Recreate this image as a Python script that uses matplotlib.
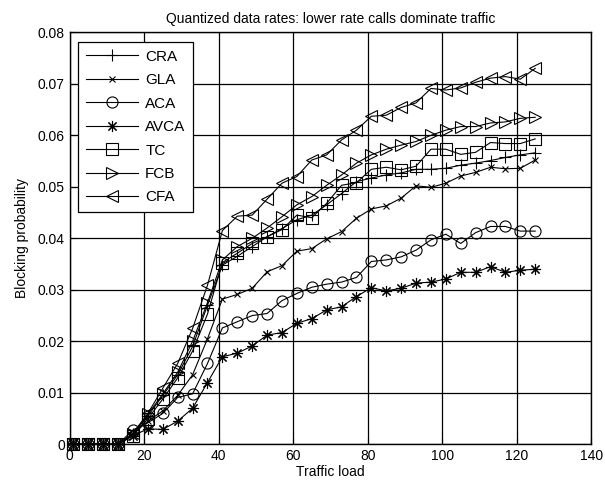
import matplotlib
matplotlib.use("Agg")
import matplotlib.pyplot as plt
from matplotlib.ticker import FuncFormatter

plt.rcParams['font.family'] = ['Liberation Sans', 'DejaVu Sans']
plt.rcParams['font.size'] = 10

# traffic load points (every 4 units from 1 to 125)
load = list(range(1, 126, 4))

cra = [0, 0, 0, 0, 0.002, 0.0055, 0.0095, 0.0135, 0.019, 0.027,
       0.0348, 0.0365, 0.0384, 0.0403, 0.0419, 0.0436, 0.0445, 0.0465, 0.0487, 0.051,
       0.0517, 0.0523, 0.0527, 0.0534, 0.0534, 0.0536, 0.0542, 0.0546, 0.0551, 0.0557,
       0.0562, 0.0566]
gla = [0, 0, 0, 0, 0.002, 0.0045, 0.0065, 0.0095, 0.0135, 0.0205,
       0.0282, 0.0291, 0.0303, 0.0335, 0.0347, 0.0375, 0.038, 0.0399, 0.0413, 0.0439,
       0.0457, 0.0463, 0.0478, 0.0502, 0.0499, 0.0507, 0.0521, 0.0528, 0.0538, 0.0535,
       0.0536, 0.0552]
aca = [0, 0, 0, 0, 0.0028, 0.0042, 0.006, 0.0091, 0.0098, 0.0157,
       0.0226, 0.0238, 0.025, 0.0254, 0.0279, 0.0293, 0.0305, 0.0311, 0.0315, 0.0324,
       0.0355, 0.0358, 0.0364, 0.0377, 0.0397, 0.0408, 0.039, 0.0411, 0.0423, 0.0423,
       0.0414, 0.0414]
avca = [0, 0, 0, 0, 0.0017, 0.003, 0.0029, 0.0045, 0.007, 0.012,
        0.017, 0.0177, 0.0191, 0.0212, 0.0217, 0.0235, 0.0244, 0.0261, 0.0267, 0.0287,
        0.0304, 0.0298, 0.0303, 0.0313, 0.0315, 0.0321, 0.0334, 0.0334, 0.0345, 0.0334,
        0.0338, 0.034]
tc = [0, 0, 0, 0, 0.0017, 0.005, 0.0088, 0.0129, 0.0181, 0.0253,
      0.0353, 0.0371, 0.039, 0.0403, 0.0417, 0.0445, 0.044, 0.0468, 0.0503, 0.0508,
      0.0534, 0.0538, 0.0533, 0.054, 0.0573, 0.0573, 0.0563, 0.0567, 0.0586, 0.0584,
      0.0584, 0.0593]
fcb = [0, 0, 0, 0, 0.002, 0.0058, 0.0098, 0.014, 0.02, 0.0275,
       0.0358, 0.0384, 0.04, 0.042, 0.0442, 0.0465, 0.0481, 0.0503, 0.0523, 0.0546,
       0.0562, 0.0573, 0.0581, 0.0588, 0.06, 0.061, 0.0617, 0.0617, 0.0624, 0.0626,
       0.0633, 0.0635]
cfa = [0, 0, 0, 0, 0.0022, 0.006, 0.0109, 0.0157, 0.0225, 0.0309,
       0.0415, 0.0443, 0.0445, 0.0476, 0.0507, 0.052, 0.0552, 0.0562, 0.0591, 0.061,
       0.0637, 0.0639, 0.0654, 0.0663, 0.0691, 0.0688, 0.0692, 0.0703, 0.0711, 0.0714,
       0.0709, 0.073]

series = [('CRA', cra, '+'), ('GLA', gla, 'x'), ('ACA', aca, 'o'),
          ('AVCA', avca, (8, 2, 0)), ('TC', tc, 's'), ('FCB', fcb, '>'), ('CFA', cfa, '<')]
msizes = {'CRA': 9, 'GLA': 5, 'ACA': 8, 'AVCA': 8, 'TC': 8, 'FCB': 8, 'CFA': 8}

fig = plt.figure(figsize=(6.05, 4.88), dpi=100)
ax = fig.add_axes([0.1152, 0.0895, 0.977 - 0.1152, 0.9338 - 0.0895])

for name, vals, mk in series:
    ax.plot(load, vals, color='black', linewidth=0.8, marker=mk, markersize=msizes[name],
            markerfacecolor='none', markeredgecolor='black', markeredgewidth=0.8,
            label=name, clip_on=False, zorder=3)

ax.set_xlim(0, 140)
ax.set_ylim(0, 0.08)
ax.set_xticks(range(0, 141, 20))
ax.set_yticks([i * 0.01 for i in range(9)])
ax.yaxis.set_major_formatter(FuncFormatter(lambda v, p: '0' if abs(v) < 1e-9 else '%.2f' % v))
ax.grid(True, color='black', linestyle='-', linewidth=0.9)
ax.set_axisbelow(True)
ax.tick_params(direction='in', length=4, color='black', labelsize=10)
for s in ax.spines.values():
    s.set_linewidth(1.0)
    s.set_color('black')

ax.set_title('Quantized data rates: lower rate calls dominate traffic', fontsize=10, pad=7)
ax.set_xlabel('Traffic load', fontsize=10, labelpad=1)
ax.set_ylabel('Blocking probability', fontsize=10, labelpad=6)

leg = ax.legend(loc='upper left', bbox_to_anchor=(8.3 / 521.5, 1 - 9.7 / 412), borderaxespad=0,
                fancybox=False, framealpha=1, edgecolor='black', handlelength=3.4,
                labelspacing=0.62, fontsize=11, borderpad=0.5, handletextpad=0.5)
leg.get_frame().set_linewidth(0.9)

fig.savefig('out.png', dpi=100)
